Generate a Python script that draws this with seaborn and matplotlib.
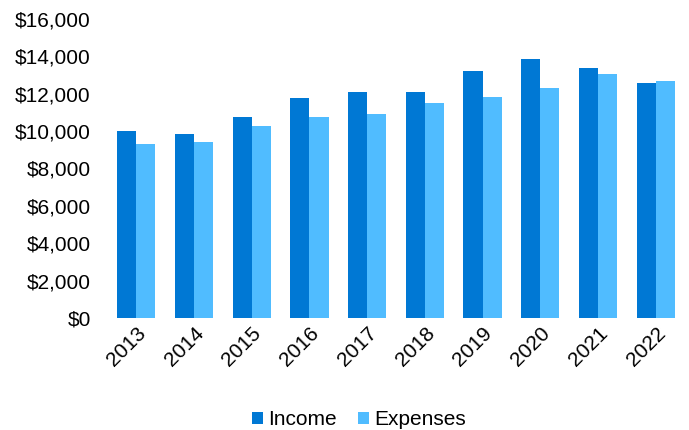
import matplotlib
matplotlib.use("Agg")
import matplotlib.pyplot as plt
import seaborn as sns
import pandas as pd
from matplotlib.ticker import FuncFormatter

years = ["2013", "2014", "2015", "2016", "2017", "2018", "2019", "2020", "2021", "2022"]
income = [10000, 9850, 10750, 11750, 12075, 12100, 13200, 13850, 13400, 12575]
expenses = [9300, 9400, 10300, 10750, 10900, 11500, 11800, 12300, 13050, 12700]
series_names = ["Income", "Expenses"]
colors = ["#0078D4", "#50BCFF"]

df = pd.DataFrame({
    "Year": years * 2,
    "Value": income + expenses,
    "Series": [series_names[0]] * len(years) + [series_names[1]] * len(years),
})

sns.set_style("white")
plt.rcParams["font.family"] = ["Liberation Sans", "DejaVu Sans"]
plt.rcParams["text.color"] = "black"

fig = plt.figure(figsize=(6.89, 4.30), dpi=100)
ax = fig.add_axes([0.156, 0.2605, 0.8376, 0.6953])

sns.barplot(data=df, x="Year", y="Value", hue="Series", palette=colors,
            saturation=1, width=0.664, gap=0, edgecolor="none", linewidth=0, ax=ax)

ax.set_ylim(0, 16000)
ax.set_yticks(range(0, 16001, 2000))
ax.yaxis.set_major_formatter(FuncFormatter(lambda v, p: f"${int(v):,}"))
ax.set_xlim(-0.5, len(years) - 0.5)
ax.set_xlabel("")
ax.set_ylabel("")
for s in ax.spines.values():
    s.set_visible(False)
ax.tick_params(axis="both", length=0, labelsize=15, colors="black")
ax.tick_params(axis="y", pad=12)
plt.setp(ax.get_xticklabels(), rotation=45, ha="right", rotation_mode="anchor")
ax.tick_params(axis="x", pad=4)

handles, labels = ax.get_legend_handles_labels()
leg = ax.legend(handles, labels, loc="lower center", bbox_to_anchor=(0.436, -0.435),
                ncol=2, frameon=False, fontsize=15, handlelength=0.55, handleheight=0.55,
                handletextpad=0.25, columnspacing=1.0)
for t in leg.get_texts():
    t.set_color("black")

fig.savefig("out.png", dpi=100)
